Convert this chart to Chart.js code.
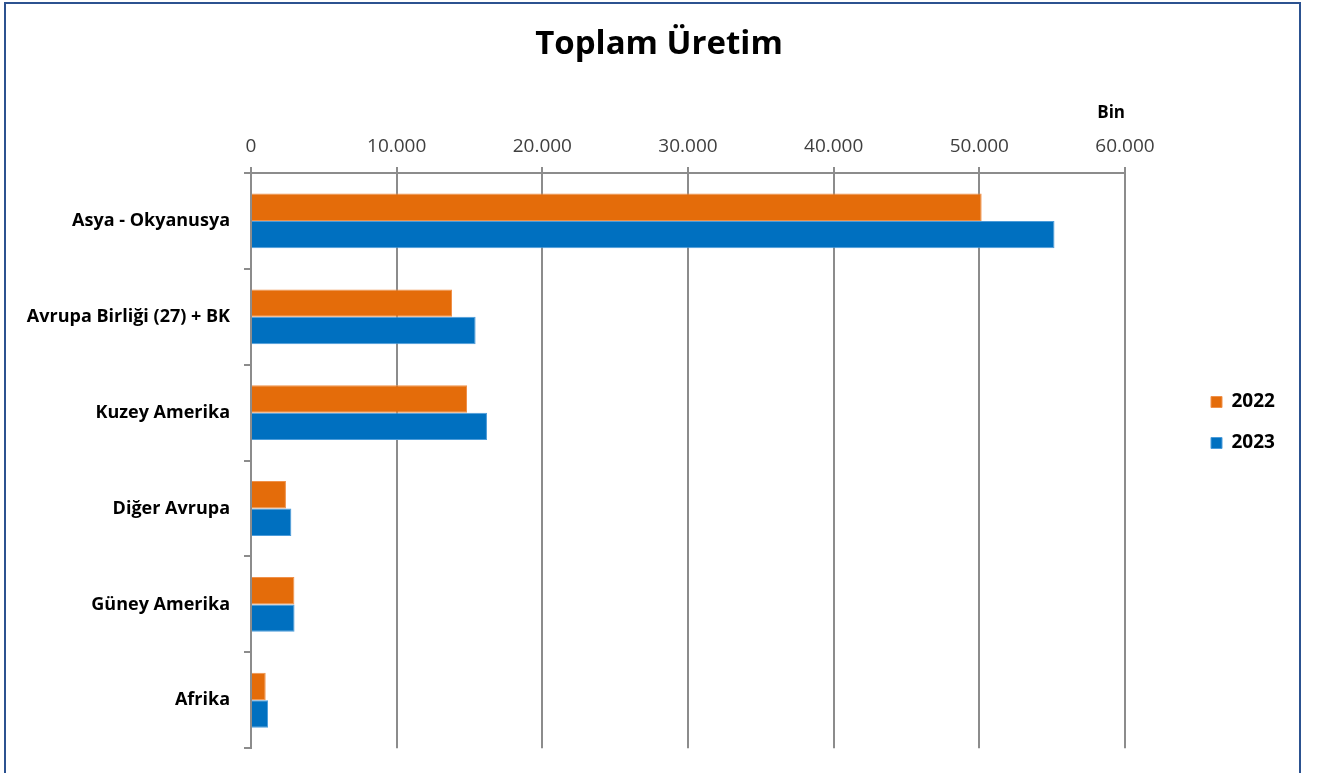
<!DOCTYPE html>
<html>
<head>
<meta charset="utf-8">
<script src="https://cdn.jsdelivr.net/npm/chart.js@4/dist/chart.umd.min.js"></script>
<style>
  html, body { margin: 0; padding: 0; background: #fff; overflow: hidden; }
  #wrap { position: relative; width: 1318px; height: 773px; }
  #frame { position: absolute; left: 4px; top: 2px; width: 1297px; height: 900px; box-sizing: border-box; border: 2px solid #2C5290; pointer-events: none; }
  canvas { position: absolute; left: 0; top: 0; }
</style>
</head>
<body>
<div id="wrap">
  <canvas id="c" width="1318" height="773"></canvas>
  <div id="frame"></div>
</div>
<script>
const chartTitle = 'Toplam Üretim';
const unitLabel = 'Bin';
const categories = ['Asya - Okyanusya', 'Avrupa Birliği (27) + BK', 'Kuzey Amerika', 'Diğer Avrupa', 'Güney Amerika', 'Afrika'];
const seriesNames = ['2022', '2023'];
const values2022 = [50160, 13800, 14830, 2400, 2980, 1010];
const values2023 = [55160, 15420, 16200, 2770, 2990, 1170];
const axisMin = 0;
const axisMax = 60000;
const axisStep = 10000;

function fmt(v) {
  return String(Math.round(v)).replace(/\B(?=(\d{3})+(?!\d))/g, '.');
}

const FONT = '"Open Sans", Calibri, Carlito, Lato, sans-serif';
const GRID = '#8c8c8c';

const legendPlace = {
  id: 'legendPlace',
  afterInit(chart) {
    const lg = chart.legend;
    if (!lg) return;
    const orig = lg.fit.bind(lg);
    lg.fit = function () { orig(); this.width = 193; };
  },
  afterLayout(chart) {
    const lg = chart.legend;
    if (!lg) return;
    lg.left = 1189; lg.right = 1318;
    lg.top = 173; lg.bottom = 672;
  }
};

new Chart(document.getElementById('c'), {
  type: 'bar',
  data: {
    labels: categories,
    datasets: [
      { label: seriesNames[0], data: values2022, backgroundColor: '#E46C0A', borderColor: '#F0914A', borderWidth: 1, borderSkipped: 'start' },
      { label: seriesNames[1], data: values2023, backgroundColor: '#0070C0', borderColor: '#4C9CDA', borderWidth: 1, borderSkipped: 'start' }
    ]
  },
  plugins: [legendPlace],
  options: {
    indexAxis: 'y',
    responsive: false,
    animation: false,
    devicePixelRatio: 1,
    layout: { padding: { left: 0, right: 0, top: 0, bottom: 23 } },
    datasets: { bar: { categoryPercentage: 0.572, barPercentage: 1 } },
    plugins: {
      title: {
        display: true,
        text: chartTitle,
        color: '#000',
        font: { family: FONT, size: 33, weight: 'bold' },
        padding: { top: 25, bottom: 8.4 }
      },
      legend: {
        position: 'right',
        labels: {
          color: '#000',
          font: { family: FONT, size: 19, weight: 'bold' },
          boxWidth: 11,
          boxHeight: 11,
          padding: 22
        }
      },
      tooltip: { enabled: false }
    },
    scales: {
      x: {
        position: 'top',
        min: axisMin,
        max: axisMax,
        afterFit(s) { s.height = 100; },
        ticks: {
          stepSize: axisStep,
          color: '#404040',
          font: { family: FONT, size: 19 },
          padding: 9,
          maxRotation: 0,
          callback: (v) => fmt(v)
        },
        grid: { color: GRID, lineWidth: 2, tickLength: 6, drawTicks: true },
        border: { color: GRID, width: 2 },
        title: {
          display: true,
          text: unitLabel,
          align: 'end',
          color: '#000',
          font: { family: FONT, size: 17, weight: 'bold' },
          padding: { top: 30, bottom: 0 }
        }
      },
      y: {
        afterFit(s) { s.width = 251; },
        ticks: {
          color: '#000',
          font: { family: FONT, size: 18, weight: 'bold' },
          padding: 14
        },
        grid: { offset: true, drawOnChartArea: false, drawTicks: true, tickLength: 7, color: GRID, lineWidth: 2 },
        border: { color: GRID, width: 2 }
      }
    }
  }
});
</script>
</body>
</html>
